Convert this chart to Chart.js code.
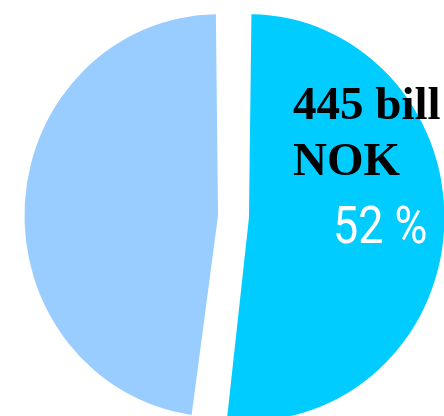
<!DOCTYPE html>
<html>
<head>
<meta charset="utf-8">
<script src="https://cdn.jsdelivr.net/npm/chart.js@4"></script>
<style>
  html, body { margin: 0; padding: 0; background: #fff; overflow: hidden; }
  #wrap { position: absolute; left: 0; top: 0; width: 467px; height: 433px; }
</style>
</head>
<body>
<div id="wrap"><canvas id="myChart" width="467" height="433"></canvas></div>
<script>
const categories = ['Andel', 'Resten']
const shares = [52, 48]
const sliceColors = ['#00CCFF', '#99CCFF']
const amountLines = ['445 bill', 'NOK']

// the original pie is a bit taller than wide, stretch the slices only
const stretchPie = {
    id: 'stretchPie',
    beforeDatasetsDraw(chart) {
        const {x, y} = chart.getDatasetMeta(0).data[0]
        const ctx = chart.ctx
        ctx.save()
        ctx.translate(x, y)
        ctx.scale(1, 1.04)
        ctx.translate(-x, -y)
    },
    afterDatasetsDraw(chart) {
        chart.ctx.restore()
    }
}

// draws the amount and percentage on the first slice
const sliceText = {
    id: 'sliceText',
    afterDraw(chart) {
        const arc = chart.getDatasetMeta(0).data[0]
        const ctx = chart.ctx
        const {x, y} = arc
        ctx.save()
        ctx.textAlign = 'left'
        ctx.textBaseline = 'alphabetic'
        ctx.fillStyle = '#000'
        ctx.font = 'bold 47px "Liberation Serif", "Times New Roman", serif'
        ctx.fillText(amountLines[0], x + 59.5, y - 97.5)
        ctx.fillText(amountLines[1], x + 59.5, y - 41.5)

        ctx.fillStyle = '#fff'
        ctx.font = '400 51px Roboto, "Liberation Sans", sans-serif'
        ctx.translate(x + 99.5, y + 26.5)
        ctx.scale(0.88, 1)
        ctx.fillText(shares[0] + ' %', 0, 0)
        ctx.restore()
    }
}

const ctx = document.getElementById('myChart')

new Chart(ctx, {
    type: 'pie',
    data: {
        labels: categories,
        datasets: [{
            data: shares,
            backgroundColor: sliceColors,
            borderWidth: 0,
            offset: 62,
            hoverOffset: 0,
            radius: 180
        }]
    },
    options: {
        responsive: false,
        animation: false,
        events: [],
        plugins: {
            legend: { display: false },
            tooltip: { enabled: false }
        }
    },
    plugins: [stretchPie, sliceText]
})
</script>
</body>
</html>
